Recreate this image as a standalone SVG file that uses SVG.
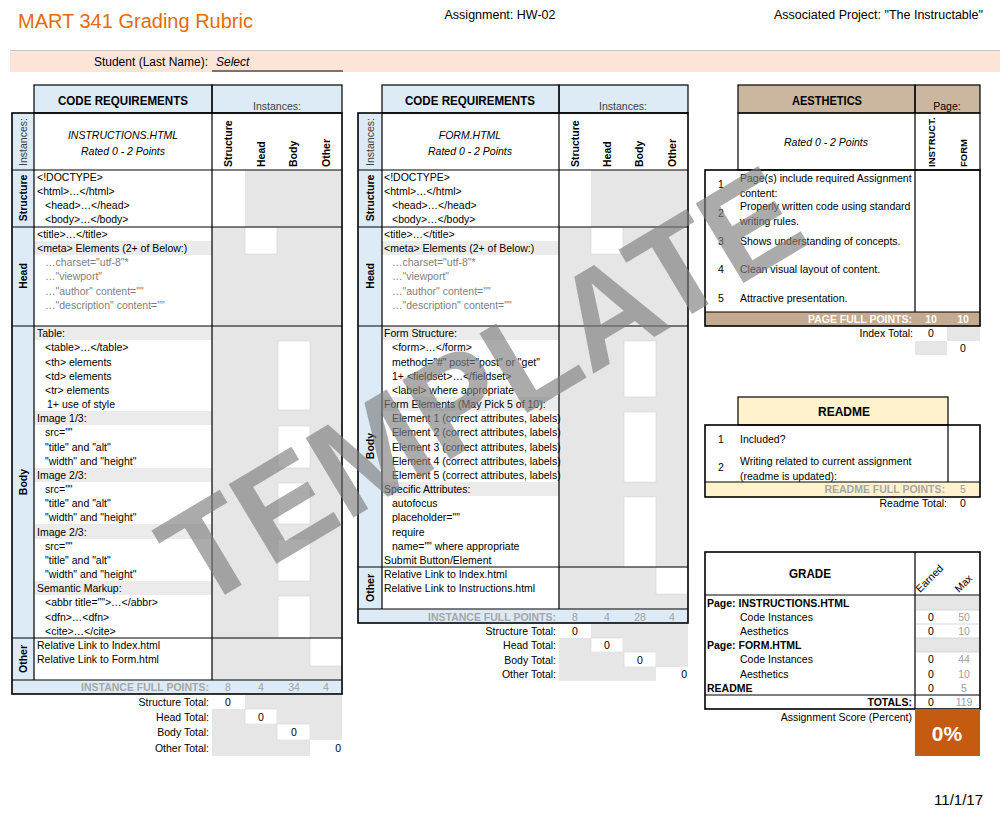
<svg xmlns="http://www.w3.org/2000/svg" width="1000" height="813" viewBox="0 0 1000 813">
<style>
text{font-family:"Liberation Sans",Arial,sans-serif;font-size:10.5px;fill:#000}
.b{font-weight:bold}
.i{font-style:italic}
.g{fill:#7f7f7f}
.dg{fill:#404040}
.fp{font-weight:bold;fill:#a6a6a6}
.fn{fill:#a0a0a0}
.w{fill:#fff}
.h{font-size:13.5px;font-weight:bold}
.m{text-anchor:middle}
.e{text-anchor:end}
.gc{fill:#e7e6e6}
.lr{fill:#ebebeb}
.bl{fill:#ddebf7}
.wb{fill:#fff;stroke:#d4d4d4;stroke-width:.6}
.k{stroke:#000;stroke-width:1.6;fill:none}
.k1{stroke:#000;stroke-width:1.2;fill:none}
.tl{stroke:#cfcfcf;stroke-width:.8}
</style>
<rect width="1000" height="813" fill="#fff"/>

<g id="page-header">
<text x="18" y="28" style="font-size:20px;fill:#e46c0a">MART 341 Grading Rubric</text>
<text x="500" y="19" class="m" style="font-size:12.5px">Assignment: HW-02</text>
<text x="983" y="19" class="e" style="font-size:12.5px">Associated Project: "The Instructable"</text>
<rect x="10" y="50" width="990" height="22" fill="#fce4d6"/>
<line x1="10" y1="50.5" x2="1000" y2="50.5" stroke="#c8c8c8" stroke-width="1"/>
<text x="208" y="66" class="e" style="font-size:12px">Student (Last Name):</text>
<text x="216" y="66" class="i" style="font-size:12px">Select</text>
<line x1="212" y1="71" x2="343" y2="71" stroke="#000" stroke-width="1.2"/>
</g>

<g id="code-instructions">
<rect x="34" y="85" width="178" height="28" class="bl"/>
<rect x="212" y="85" width="130" height="28" class="bl"/>
<rect x="12" y="113" width="22" height="567" class="bl"/>
<rect x="12" y="680" width="330" height="14" class="bl"/>
<rect x="245" y="170" width="97" height="57" class="gc"/>
<rect x="212" y="227" width="130" height="99" class="gc"/>
<rect x="245" y="227" width="32" height="27" class="wb"/>
<rect x="212" y="326" width="130" height="312" class="gc"/>
<rect x="278" y="341" width="32" height="69" class="wb"/>
<rect x="278" y="426" width="32" height="42" class="wb"/>
<rect x="278" y="483" width="32" height="41" class="wb"/>
<rect x="278" y="539" width="32" height="42" class="wb"/>
<rect x="278" y="596" width="32" height="42" class="wb"/>
<rect x="212" y="638" width="130" height="42" class="gc"/>
<rect x="310" y="638" width="32" height="28" class="wb"/>
<rect x="34" y="241" width="178" height="14" class="lr"/>
<rect x="34" y="326" width="178" height="14" class="lr"/>
<rect x="34" y="411" width="178" height="14" class="lr"/>
<rect x="34" y="468" width="178" height="14" class="lr"/>
<rect x="34" y="524" width="178" height="15" class="lr"/>
<rect x="34" y="581" width="178" height="14" class="lr"/>
<rect x="34" y="85" width="178" height="28" class="k1"/>
<rect x="212" y="85" width="130" height="28" class="k1"/>
<rect x="12" y="113" width="330" height="581" class="k"/>
<path d="M34 113V680M212 113V680M12 170H342M12 227H342M12 326H342M12 638H342M12 680H342" class="k1"/>
<text x="123" y="105" class="m h" textLength="130" lengthAdjust="spacingAndGlyphs">CODE REQUIREMENTS</text>
<text x="277" y="110" class="m dg">Instances:</text>
<text transform="translate(27,142) rotate(-90)" class="m dg">Instances:</text>
<text x="123" y="139" class="m i">INSTRUCTIONS.HTML</text>
<text x="123" y="155" class="m i">Rated 0 - 2 Points</text>
<text transform="translate(232,167) rotate(-90)" class="b">Structure</text>
<text transform="translate(265,167) rotate(-90)" class="b">Head</text>
<text transform="translate(297,167) rotate(-90)" class="b">Body</text>
<text transform="translate(330,167) rotate(-90)" class="b">Other</text>
<text transform="translate(27,198) rotate(-90)" class="m b">Structure</text>
<text transform="translate(27,276) rotate(-90)" class="m b">Head</text>
<text transform="translate(27,482) rotate(-90)" class="m b">Body</text>
<text transform="translate(27,659) rotate(-90)" class="m b">Other</text>
<text x="37" y="181">&lt;!DOCTYPE&gt;</text>
<text x="37" y="195">&lt;html&gt;…&lt;/html&gt;</text>
<text x="45" y="209">&lt;head&gt;…&lt;/head&gt;</text>
<text x="45" y="223">&lt;body&gt;…&lt;/body&gt;</text>
<text x="37" y="238">&lt;title&gt;…&lt;/title&gt;</text>
<text x="37" y="252">&lt;meta&gt; Elements (2+ of Below:)</text>
<text x="45" y="266" class="g">…charset="utf-8"*</text>
<text x="45" y="280" class="g">…"viewport"</text>
<text x="45" y="295" class="g">…"author" content=""</text>
<text x="45" y="309" class="g">…"description" content=""</text>
<text x="37" y="337">Table:</text>
<text x="45" y="351">&lt;table&gt;…&lt;/table&gt;</text>
<text x="45" y="365.5">&lt;th&gt; elements</text>
<text x="45" y="379.5">&lt;td&gt; elements</text>
<text x="45" y="394">&lt;tr&gt; elements</text>
<text x="47" y="408">1+ use of style</text>
<text x="37" y="422">Image 1/3:</text>
<text x="45" y="436">src=""</text>
<text x="45" y="450.5">"title" and "alt"</text>
<text x="45" y="464.5">"width" and "height"</text>
<text x="37" y="479">Image 2/3:</text>
<text x="45" y="493">src=""</text>
<text x="45" y="507">"title" and "alt"</text>
<text x="45" y="521">"width" and "height"</text>
<text x="37" y="535.5">Image 2/3:</text>
<text x="45" y="549.5">src=""</text>
<text x="45" y="563.5">"title" and "alt"</text>
<text x="45" y="578">"width" and "height"</text>
<text x="37" y="592">Semantic Markup:</text>
<text x="45" y="606">&lt;abbr title=""&gt;…&lt;/abbr&gt;</text>
<text x="45" y="620.5">&lt;dfn&gt;…&lt;dfn&gt;</text>
<text x="45" y="634.5">&lt;cite&gt;…&lt;/cite&gt;</text>
<text x="37" y="649">Relative Link to Index.html</text>
<text x="37" y="663">Relative Link to Form.html</text>
<text x="209" y="691" class="e fp">INSTANCE FULL POINTS:</text>
<text x="228" y="691" class="m fn">8</text>
<text x="261" y="691" class="m fn">4</text>
<text x="294" y="691" class="m fn">34</text>
<text x="326" y="691" class="m fn">4</text>
</g>

<g id="totals-instructions">
<rect x="245" y="695" width="97" height="14" class="gc"/>
<rect x="212" y="709" width="33" height="15" class="gc"/>
<rect x="245" y="709" width="32" height="15" class="wb"/>
<rect x="277" y="709" width="65" height="15" class="gc"/>
<rect x="212" y="724" width="65" height="16" class="gc"/>
<rect x="277" y="724" width="33" height="16" class="wb"/>
<rect x="310" y="724" width="32" height="16" class="gc"/>
<rect x="212" y="740" width="98" height="16" class="gc"/>
<text x="209" y="706" class="e">Structure Total:</text>
<text x="228" y="706" class="m">0</text>
<text x="209" y="720.5" class="e">Head Total:</text>
<text x="261" y="720.5" class="m">0</text>
<text x="209" y="736" class="e">Body Total:</text>
<text x="294" y="736" class="m">0</text>
<text x="209" y="752" class="e">Other Total:</text>
<text x="341" y="752" class="e">0</text>
</g>

<g id="code-form">
<rect x="382" y="85" width="177" height="28" class="bl"/>
<rect x="559" y="85" width="129" height="28" class="bl"/>
<rect x="358" y="113" width="24" height="496" class="bl"/>
<rect x="358" y="609" width="330" height="14" class="bl"/>
<rect x="591" y="170" width="97" height="57" class="gc"/>
<rect x="559" y="227" width="129" height="99" class="gc"/>
<rect x="591" y="227" width="32" height="27" class="wb"/>
<rect x="559" y="326" width="129" height="241" class="gc"/>
<rect x="624" y="341" width="32" height="56" class="wb"/>
<rect x="624" y="412" width="32" height="70" class="wb"/>
<rect x="624" y="497" width="32" height="70" class="wb"/>
<rect x="559" y="567" width="129" height="42" class="gc"/>
<rect x="656" y="567" width="32" height="27" class="wb"/>
<rect x="382" y="241" width="177" height="14" class="lr"/>
<rect x="382" y="326" width="177" height="14" class="lr"/>
<rect x="382" y="397" width="177" height="14" class="lr"/>
<rect x="382" y="482" width="177" height="14" class="lr"/>
<rect x="382" y="85" width="177" height="28" class="k1"/>
<rect x="559" y="85" width="129" height="28" class="k1"/>
<rect x="358" y="113" width="330" height="510" class="k"/>
<path d="M382 113V609M559 113V609M358 170H688M358 227H688M358 326H688M358 567H688M358 609H688" class="k1"/>
<text x="470" y="105" class="m h" textLength="130" lengthAdjust="spacingAndGlyphs">CODE REQUIREMENTS</text>
<text x="623" y="110" class="m dg">Instances:</text>
<text transform="translate(374,142) rotate(-90)" class="m dg">Instances:</text>
<text x="470" y="139" class="m i">FORM.HTML</text>
<text x="470" y="155" class="m i">Rated 0 - 2 Points</text>
<text transform="translate(579,167) rotate(-90)" class="b">Structure</text>
<text transform="translate(611,167) rotate(-90)" class="b">Head</text>
<text transform="translate(643,167) rotate(-90)" class="b">Body</text>
<text transform="translate(676,167) rotate(-90)" class="b">Other</text>
<text transform="translate(374,198) rotate(-90)" class="m b">Structure</text>
<text transform="translate(374,276) rotate(-90)" class="m b">Head</text>
<text transform="translate(374,446) rotate(-90)" class="m b">Body</text>
<text transform="translate(374,588) rotate(-90)" class="m b">Other</text>
<text x="384" y="181">&lt;!DOCTYPE&gt;</text>
<text x="384" y="195">&lt;html&gt;…&lt;/html&gt;</text>
<text x="392" y="209">&lt;head&gt;…&lt;/head&gt;</text>
<text x="392" y="223">&lt;body&gt;…&lt;/body&gt;</text>
<text x="384" y="238">&lt;title&gt;…&lt;/title&gt;</text>
<text x="384" y="252">&lt;meta&gt; Elements (2+ of Below:)</text>
<text x="392" y="266" class="g">…charset="utf-8"*</text>
<text x="392" y="280" class="g">…"viewport"</text>
<text x="392" y="295" class="g">…"author" content=""</text>
<text x="392" y="309" class="g">…"description" content=""</text>
<text x="384" y="337">Form Structure:</text>
<text x="392" y="351">&lt;form&gt;…&lt;/form&gt;</text>
<text x="392" y="365.5">method="#" post="post" or "get"</text>
<text x="392" y="379.5">1+ &lt;fieldset&gt;…&lt;/fieldset&gt;</text>
<text x="392" y="394">&lt;label&gt; where appropriate</text>
<text x="384" y="408">Form Elements (May Pick 5 of 10):</text>
<text x="392" y="422">Element 1 (correct attributes, labels)</text>
<text x="392" y="436">Element 2 (correct attributes, labels)</text>
<text x="392" y="450.5">Element 3 (correct attributes, labels)</text>
<text x="392" y="464.5">Element 4 (correct attributes, labels)</text>
<text x="392" y="479">Element 5 (correct attributes, labels)</text>
<text x="384" y="493">Specific Attributes:</text>
<text x="392" y="507">autofocus</text>
<text x="392" y="521">placeholder=""</text>
<text x="392" y="535.5">require</text>
<text x="392" y="549.5">name="" where appropriate</text>
<text x="384" y="563.5">Submit Button/Element</text>
<text x="384" y="578">Relative Link to Index.html</text>
<text x="384" y="592">Relative Link to Instructions.html</text>
<text x="556" y="620.5" class="e fp">INSTANCE FULL POINTS:</text>
<text x="575" y="620.5" class="m fn">8</text>
<text x="607" y="620.5" class="m fn">4</text>
<text x="640" y="620.5" class="m fn">28</text>
<text x="672" y="620.5" class="m fn">4</text>
</g>

<g id="totals-form">
<rect x="591" y="624" width="97" height="14" class="gc"/>
<rect x="559" y="638" width="32" height="14" class="gc"/>
<rect x="591" y="638" width="32" height="14" class="wb"/>
<rect x="623" y="638" width="65" height="14" class="gc"/>
<rect x="559" y="652" width="65" height="15" class="gc"/>
<rect x="624" y="652" width="32" height="15" class="wb"/>
<rect x="656" y="652" width="32" height="15" class="gc"/>
<rect x="559" y="667" width="97" height="14" class="gc"/>
<text x="556" y="635" class="e">Structure Total:</text>
<text x="575" y="635" class="m">0</text>
<text x="556" y="649" class="e">Head Total:</text>
<text x="607" y="649" class="m">0</text>
<text x="556" y="663.5" class="e">Body Total:</text>
<text x="640" y="663.5" class="m">0</text>
<text x="556" y="678" class="e">Other Total:</text>
<text x="687" y="678" class="e">0</text>
</g>

<g id="aesthetics">
<rect x="738" y="85" width="177" height="28" fill="#cbb7a0"/>
<rect x="915" y="85" width="65" height="28" fill="#cbb7a0"/>
<rect x="705" y="312" width="275" height="14" fill="#c4aa90"/>
<rect x="738" y="85" width="177" height="28" class="k1"/>
<rect x="915" y="85" width="65" height="28" class="k1"/>
<rect x="738" y="113" width="242" height="57" class="k1"/>
<rect x="705" y="170" width="275" height="156" class="k"/>
<path d="M915 113V312M705 312H980" class="k1"/>
<text x="827" y="105" class="m h" textLength="70" lengthAdjust="spacingAndGlyphs">AESTHETICS</text>
<text x="947" y="110" class="m">Page:</text>
<text x="826" y="146" class="m i">Rated 0 - 2 Points</text>
<text transform="translate(935,167) rotate(-90)" class="b" style="font-size:9.5px">INSTRUCT.</text>
<text transform="translate(967,167) rotate(-90)" class="b" style="font-size:9.5px">FORM</text>
<text x="721" y="188" class="m">1</text>
<text x="740" y="182">Page(s) include required Assignment</text>
<text x="740" y="197">content:</text>
<text x="721" y="217" class="m">2</text>
<text x="740" y="210">Properly written code using standard</text>
<text x="740" y="225">writing rules.</text>
<text x="721" y="245" class="m">3</text>
<text x="740" y="245">Shows understanding of concepts.</text>
<text x="721" y="273" class="m">4</text>
<text x="740" y="273">Clean visual layout of content.</text>
<text x="721" y="302" class="m">5</text>
<text x="740" y="302">Attractive presentation.</text>
<text x="912" y="323" class="e b w">PAGE FULL POINTS:</text>
<text x="931" y="323" class="m b w">10</text>
<text x="963" y="323" class="m b w">10</text>
<rect x="947" y="327" width="33" height="14" class="gc"/>
<rect x="915" y="341" width="32" height="14" class="gc"/>
<text x="913" y="337" class="e">Index Total:</text>
<text x="931" y="337" class="m">0</text>
<text x="963" y="352" class="m">0</text>
</g>

<g id="readme">
<rect x="738" y="397" width="210" height="28" fill="#fff2cc"/>
<rect x="705" y="482" width="275" height="15" fill="#fff2cc"/>
<rect x="738" y="397" width="210" height="28" class="k1"/>
<rect x="705" y="425" width="275" height="72" class="k"/>
<path d="M948 425V482M705 482H980" class="k1"/>
<text x="844" y="416" class="m h" textLength="52" lengthAdjust="spacingAndGlyphs">README</text>
<text x="721" y="443" class="m">1</text>
<text x="740" y="443">Included?</text>
<text x="721" y="471" class="m">2</text>
<text x="740" y="465">Writing related to current assignment</text>
<text x="740" y="480">(readme is updated):</text>
<text x="945" y="493" class="e fp">README FULL POINTS:</text>
<text x="963" y="493" class="m fn">5</text>
<text x="947" y="507" class="e">Readme Total:</text>
<text x="963" y="507" class="m">0</text>
</g>

<g id="grade">
<rect x="916" y="596" width="63" height="14" class="gc"/>
<rect x="916" y="638" width="63" height="14" class="gc"/>
<path d="M916 610H979M916 624H979M916 638H979M916 652H979" class="tl"/>
<rect x="705" y="552" width="275" height="157" class="k"/>
<path d="M915 552V709M705 595H980M705 695H980" class="k1"/>
<text x="810" y="578" class="m h" textLength="42" lengthAdjust="spacingAndGlyphs">GRADE</text>
<text transform="translate(932,581) rotate(-45)" class="m">Earned</text>
<text transform="translate(966,586) rotate(-45)" class="m">Max</text>
<text x="707" y="607" class="b">Page: INSTRUCTIONS.HTML</text>
<text x="740" y="621">Code Instances</text>
<text x="740" y="635">Aesthetics</text>
<text x="707" y="649" class="b">Page: FORM.HTML</text>
<text x="740" y="663">Code Instances</text>
<text x="740" y="678">Aesthetics</text>
<text x="707" y="692" class="b">README</text>
<text x="912" y="706" class="e b">TOTALS:</text>
<text x="931" y="621" class="m">0</text>
<text x="931" y="635" class="m">0</text>
<text x="931" y="663" class="m">0</text>
<text x="931" y="678" class="m">0</text>
<text x="931" y="692" class="m">0</text>
<text x="931" y="706" class="m">0</text>
<text x="964" y="621" class="m fn">50</text>
<text x="964" y="635" class="m fn">10</text>
<text x="964" y="663" class="m fn">44</text>
<text x="964" y="678" class="m fn">10</text>
<text x="964" y="692" class="m fn">5</text>
<text x="964" y="706" class="m fn">119</text>
<text x="912" y="721" class="e">Assignment Score (Percent)</text>
<rect x="915" y="709" width="65" height="47" fill="#c55a11"/>
<text x="947" y="741" class="m b w" style="font-size:21px">0%</text>
</g>

<text x="983" y="805" class="e" style="font-size:15px">11/1/17</text>

<g id="watermark">
<text transform="translate(198,611) rotate(-31)" class="b" style="font-size:135px;fill:#7f7f7f;opacity:.65">TEMPLATE</text>
</g>
</svg>
